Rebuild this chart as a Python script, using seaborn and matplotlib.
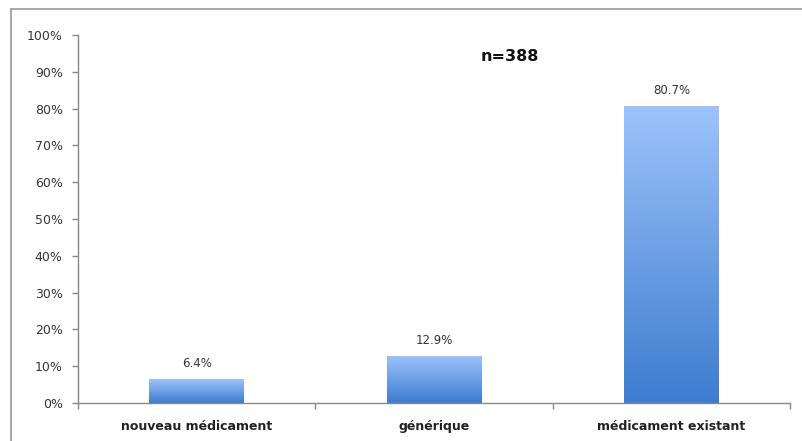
import numpy as np
import pandas as pd
import matplotlib
matplotlib.use("Agg")
import matplotlib.pyplot as plt
from matplotlib.colors import LinearSegmentedColormap
from matplotlib.lines import Line2D
import seaborn as sns

categories = ["nouveau médicament", "générique", "médicament existant"]
values = [6.4, 12.9, 80.7]
value_labels = ["6.4%", "12.9%", "80.7%"]
y_ticks = list(range(0, 101, 10))
y_tick_labels = [f"{t}%" for t in y_ticks]
sample_note = "n=388"

sns.set_theme(style="white")
plt.rcParams["font.family"] = ["DejaVu Sans"]

df = pd.DataFrame({"categorie": categories, "pct": values})

fig = plt.figure(figsize=(8.02, 4.41), dpi=100)
ax = fig.add_axes([78 / 802, 38 / 441, (790 - 78) / 802, (403 - 35) / 441])

sns.barplot(data=df, x="categorie", y="pct", ax=ax, width=0.4,
            color="#6a9de6", saturation=1)

# vertical gradient fill for each bar
cmap = LinearSegmentedColormap.from_list("bleu", ["#3d7ccf", "#9dc3fa"])
grad = np.linspace(0, 1, 256).reshape(-1, 1)
for bar in ax.patches:
    x0, y0 = bar.get_x(), bar.get_y()
    w, h = bar.get_width(), bar.get_height()
    bar.set_facecolor("none")
    bar.set_edgecolor("none")
    im = ax.imshow(grad, cmap=cmap, aspect="auto", origin="lower",
                   extent=[x0, x0 + w, y0, y0 + h], zorder=2)
    im.set_clip_path(bar)

for bar, lab in zip(ax.patches, value_labels):
    ax.annotate(lab, (bar.get_x() + bar.get_width() / 2, bar.get_height()),
                xytext=(0, 6.5), textcoords="offset points", ha="center",
                va="bottom", fontsize=8.5, color="#333333")

ax.set_xlim(-0.5, len(categories) - 0.5)
ax.set_ylim(0, 100)
ax.set_yticks(y_ticks)
ax.set_yticklabels(y_tick_labels, fontsize=9, color="#333333")
ax.set_xticks(range(len(categories)))
ax.set_xticklabels(categories, fontsize=9, fontweight="bold", color="#222222")
ax.set_xticks(np.arange(-0.5, len(categories)), minor=True)
ax.tick_params(axis="x", which="major", length=0, pad=12)
ax.tick_params(axis="x", which="minor", length=4, width=1, color="#888888",
               direction="out", bottom=True)
ax.tick_params(axis="y", which="major", length=4, width=1, color="#888888",
               direction="out", left=True, pad=7)
ax.set_xlabel("")
ax.set_ylabel("")

for side in ("top", "right"):
    ax.spines[side].set_visible(False)
for side in ("left", "bottom"):
    ax.spines[side].set_color("#888888")
    ax.spines[side].set_linewidth(1)

ax.text(0.607, 0.942, sample_note, transform=ax.transAxes, ha="center",
        va="center", fontsize=11.5, fontweight="bold", color="#111111")

# frame around the chart area
fig.add_artist(Line2D([11 / 802, 11 / 802], [0, 1 - 9 / 441],
                      transform=fig.transFigure, color="#999999", lw=1.2))
fig.add_artist(Line2D([11 / 802, 1], [1 - 9 / 441, 1 - 9 / 441],
                      transform=fig.transFigure, color="#999999", lw=1.2))

fig.savefig("out.png", dpi=100)
